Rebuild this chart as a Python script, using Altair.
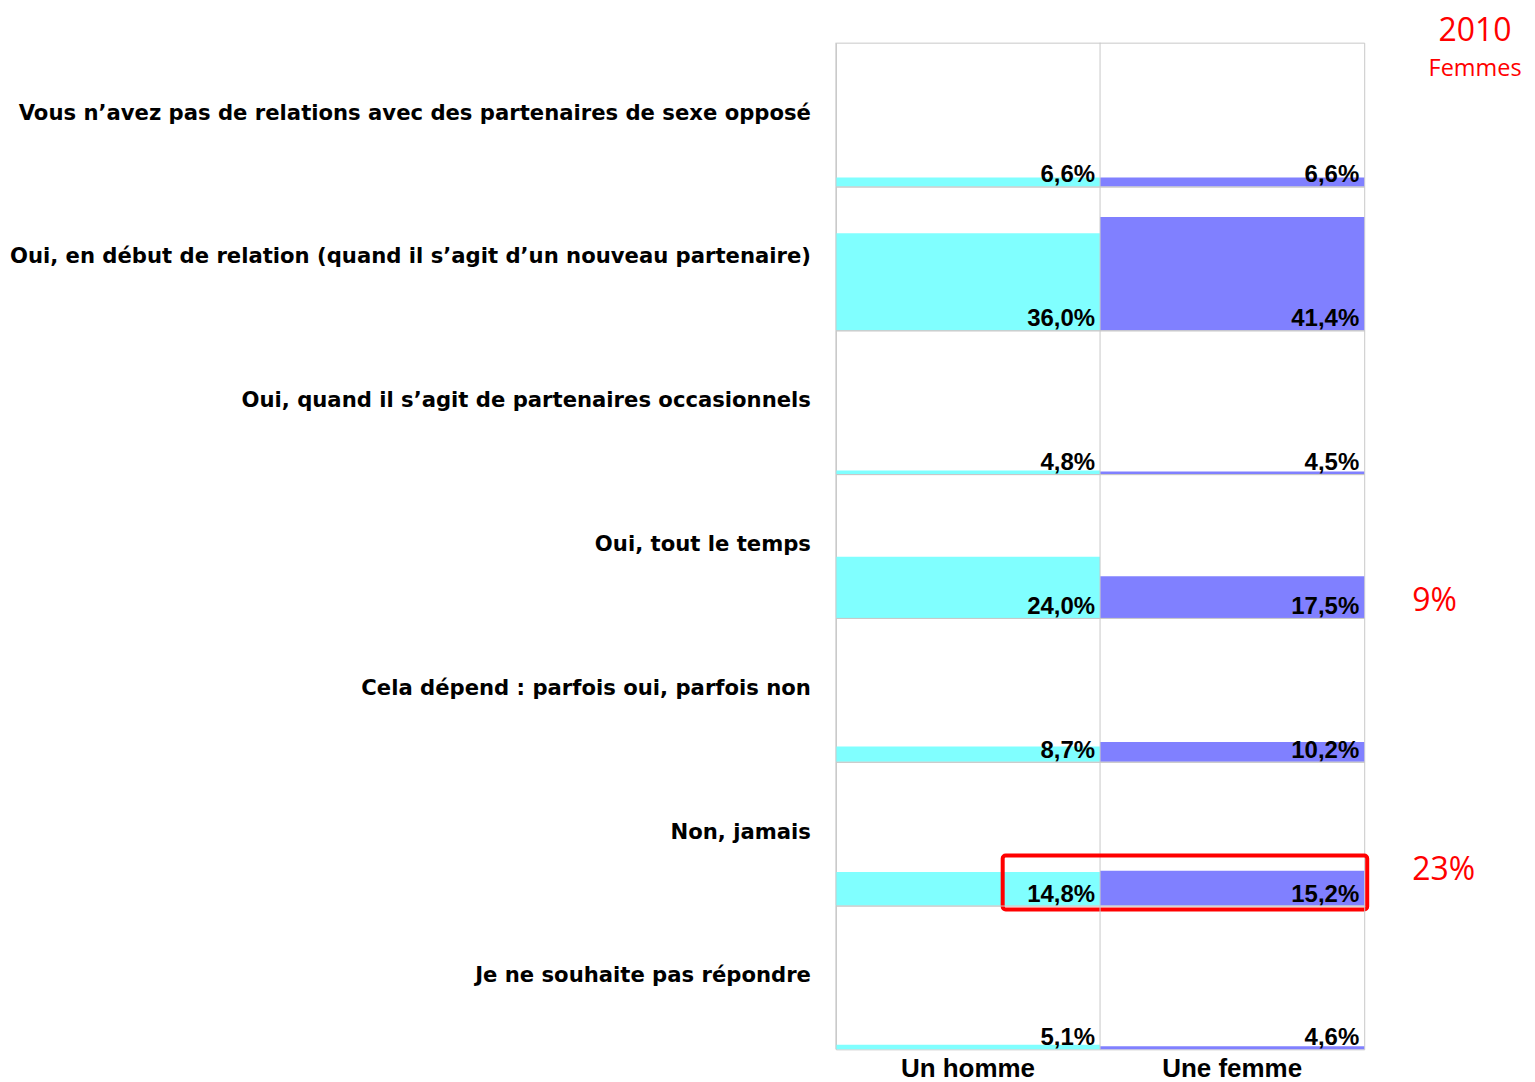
import altair as alt
import pandas as pd

categories = [
    "Vous n’avez pas de relations avec des partenaires de sexe opposé",
    "Oui, en début de relation (quand il s’agit d’un nouveau partenaire)",
    "Oui, quand il s’agit de partenaires occasionnels",
    "Oui, tout le temps",
    "Cela dépend : parfois oui, parfois non",
    "Non, jamais",
    "Je ne souhaite pas répondre",
]
genres = ["Un homme", "Une femme"]
homme = [6.6, 36.0, 4.8, 24.0, 8.7, 14.8, 5.1]
femme = [6.6, 41.4, 4.5, 17.5, 10.2, 15.2, 4.6]
colors = ["#80FFFF", "#8080FF"]
y_domain = [3.6, 51.6]

rows = []
for i, c in enumerate(categories):
    rows.append({"cat": c, "genre": genres[0], "value": homme[i]})
    rows.append({"cat": c, "genre": genres[1], "value": femme[i]})
df = pd.DataFrame(rows)

yscale = alt.Scale(domain=y_domain)
xaxis = alt.Axis(title=None, domain=False, ticks=False, grid=False,
                 labelAngle=0, labelFont="Liberation Sans", labelFontWeight="bold",
                 labelFontSize=26, labelColor="black", labelPadding=6)


def xenc(bp=None):
    kw = {}
    if bp is not None:
        kw["bandPosition"] = bp
    return alt.X("genre:N", sort=genres,
                 scale=alt.Scale(paddingInner=0, paddingOuter=0),
                 axis=xaxis, **kw)


bars = alt.Chart().mark_bar().encode(
    x=xenc(),
    y=alt.Y("value:Q", scale=yscale, axis=None),
    y2=alt.datum(y_domain[0]),
    color=alt.Color("genre:N", scale=alt.Scale(domain=genres, range=colors), legend=None),
)

grid = alt.Chart().mark_rule(color="#c8c8c8", strokeWidth=1).encode(
    x=xenc(0),
)

labels = alt.Chart().transform_calculate(
    label="replace(format(datum.value, '.1f'), '.', ',') + '%'"
).mark_text(
    align="right", baseline="alphabetic", dx=-5, dy=-4,
    font="Liberation Sans", fontWeight="bold", fontSize=24, color="black",
).encode(
    x=xenc(1),
    y=alt.Y(datum=y_domain[0], scale=yscale, axis=None),
    text="label:N",
)

row_labels = alt.Chart().transform_filter(
    alt.datum.genre == genres[0]
).mark_text(
    align="right", baseline="middle",
    font="DejaVu Sans", fontWeight="bold", fontSize=21.2, color="black",
).encode(
    x=alt.value(-25), y=alt.value(71), text="cat:N",
)

red = "#FF0000"
first_f = (alt.datum.cat == categories[0]) & (alt.datum.genre == genres[1])
note_2010 = alt.Chart().transform_filter(first_f).mark_text(
    text="2010", align="center", baseline="alphabetic", dx=111,
    font="Open Sans", fontSize=32, color=red,
).encode(x=xenc(1), y=alt.value(-2))
note_femmes = alt.Chart().transform_filter(first_f).mark_text(
    text="Femmes", align="center", baseline="alphabetic", dx=111,
    font="Open Sans", fontSize=23.5, color=red,
).encode(x=xenc(1), y=alt.value(33))

note9 = alt.Chart().transform_filter(
    (alt.datum.cat == categories[3]) & (alt.datum.genre == genres[1])
).mark_text(
    text="9%", align="left", baseline="alphabetic", dx=48,
    font="Open Sans", fontSize=32, color=red,
).encode(x=xenc(1), y=alt.value(137))

note23 = alt.Chart().transform_filter(
    (alt.datum.cat == categories[5]) & (alt.datum.genre == genres[1])
).mark_text(
    text="23%", align="left", baseline="alphabetic", dx=48,
    font="Open Sans", fontSize=32, color=red,
).encode(x=xenc(1), y=alt.value(118))

box = alt.Chart().transform_filter(
    (alt.datum.cat == categories[5]) & (alt.datum.genre == genres[1])
).mark_rect(
    filled=False, stroke=red, strokeWidth=4, cornerRadius=3,
).encode(
    x=alt.value(167), x2=alt.value(532), y=alt.value(94), y2=alt.value(148),
)

layered = alt.layer(
    bars, grid, labels, row_labels, box, note_2010, note_femmes, note9, note23, data=df
).properties(width=529, height=144)

chart = layered.facet(
    row=alt.Row(
        "cat:N", sort=categories, title=None,
        header=alt.Header(labels=False),
    ),
    spacing=0,
    bounds="flush",
).properties(
    padding={"left": 1, "top": 5, "right": 4, "bottom": 0},
).configure_view(stroke="#c8c8c8", strokeWidth=1)

chart.save("out.html", embed_options={"renderer": "svg", "actions": False})
